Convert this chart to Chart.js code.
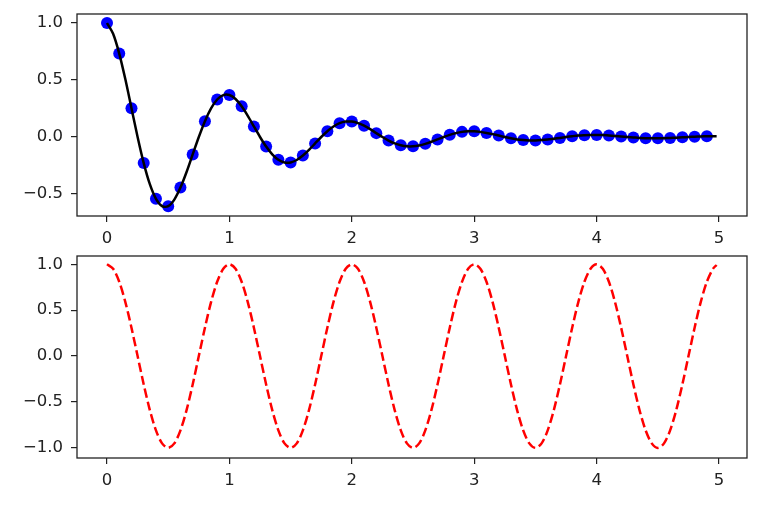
<!DOCTYPE html>
<html>
<head>
<meta charset="utf-8">
<script src="https://cdn.jsdelivr.net/npm/chart.js@4/dist/chart.umd.min.js"></script>
<style>
  body { margin: 0; background: #fff; }
  #wrap { position: relative; width: 761px; height: 505px; }
  canvas { position: absolute; left: 0; }
</style>
</head>
<body>
<div id="wrap">
  <canvas id="topChart" width="761" height="250" style="top:0"></canvas>
  <canvas id="bottomChart" width="761" height="255" style="top:250px"></canvas>
</div>
<script>
// sample times for the dots (every 0.1)
const dotTimes = [0.0, 0.1, 0.2, 0.3, 0.4, 0.5, 0.6, 0.7, 0.8, 0.9,
  1.0, 1.1, 1.2, 1.3, 1.4, 1.5, 1.6, 1.7, 1.8, 1.9,
  2.0, 2.1, 2.2, 2.3, 2.4, 2.5, 2.6, 2.7, 2.8, 2.9,
  3.0, 3.1, 3.2, 3.3, 3.4, 3.5, 3.6, 3.7, 3.8, 3.9,
  4.0, 4.1, 4.2, 4.3, 4.4, 4.5, 4.6, 4.7, 4.8, 4.9];
const dotValues = [1.000, 0.732, 0.253, -0.229, -0.542, -0.607, -0.444, -0.153, 0.139, 0.329,
  0.368, 0.269, 0.093, -0.084, -0.200, -0.223, -0.163, -0.056, 0.051, 0.121,
  0.135, 0.099, 0.034, -0.031, -0.073, -0.082, -0.060, -0.021, 0.019, 0.045,
  0.050, 0.036, 0.013, -0.011, -0.027, -0.030, -0.022, -0.008, 0.007, 0.016,
  0.018, 0.013, 0.005, -0.004, -0.010, -0.011, -0.008, -0.003, 0.003, 0.006];

// finer times for the curves (every 0.05, last one at 4.98)
const lineTimes = [0.00, 0.05, 0.10, 0.15, 0.20, 0.25, 0.30, 0.35, 0.40, 0.45,
  0.50, 0.55, 0.60, 0.65, 0.70, 0.75, 0.80, 0.85, 0.90, 0.95,
  1.00, 1.05, 1.10, 1.15, 1.20, 1.25, 1.30, 1.35, 1.40, 1.45,
  1.50, 1.55, 1.60, 1.65, 1.70, 1.75, 1.80, 1.85, 1.90, 1.95,
  2.00, 2.05, 2.10, 2.15, 2.20, 2.25, 2.30, 2.35, 2.40, 2.45,
  2.50, 2.55, 2.60, 2.65, 2.70, 2.75, 2.80, 2.85, 2.90, 2.95,
  3.00, 3.05, 3.10, 3.15, 3.20, 3.25, 3.30, 3.35, 3.40, 3.45,
  3.50, 3.55, 3.60, 3.65, 3.70, 3.75, 3.80, 3.85, 3.90, 3.95,
  4.00, 4.05, 4.10, 4.15, 4.20, 4.25, 4.30, 4.35, 4.40, 4.45,
  4.50, 4.55, 4.60, 4.65, 4.70, 4.75, 4.80, 4.85, 4.90, 4.95, 4.98];
const dampedValues = [1.000, 0.905, 0.732, 0.506, 0.253, 0.000, -0.229, -0.414, -0.542, -0.606,
  -0.607, -0.549, -0.444, -0.307, -0.153, 0.000, 0.139, 0.251, 0.329, 0.368,
  0.368, 0.333, 0.269, 0.186, 0.093, 0.000, -0.084, -0.152, -0.200, -0.223,
  -0.223, -0.202, -0.163, -0.113, -0.056, 0.000, 0.051, 0.092, 0.121, 0.135,
  0.135, 0.122, 0.099, 0.069, 0.034, 0.000, -0.031, -0.056, -0.073, -0.082,
  -0.082, -0.074, -0.060, -0.042, -0.021, 0.000, 0.019, 0.034, 0.045, 0.050,
  0.050, 0.045, 0.036, 0.025, 0.013, 0.000, -0.011, -0.021, -0.027, -0.030,
  -0.030, -0.027, -0.022, -0.015, -0.008, 0.000, 0.007, 0.013, 0.016, 0.018,
  0.018, 0.017, 0.013, 0.009, 0.005, 0.000, -0.004, -0.008, -0.010, -0.011,
  -0.011, -0.010, -0.008, -0.006, -0.003, 0.000, 0.003, 0.005, 0.006, 0.007, 0.007];
const cosValues = [1.000, 0.951, 0.809, 0.588, 0.309, 0.000, -0.309, -0.588, -0.809, -0.951,
  -1.000, -0.951, -0.809, -0.588, -0.309, 0.000, 0.309, 0.588, 0.809, 0.951,
  1.000, 0.951, 0.809, 0.588, 0.309, 0.000, -0.309, -0.588, -0.809, -0.951,
  -1.000, -0.951, -0.809, -0.588, -0.309, 0.000, 0.309, 0.588, 0.809, 0.951,
  1.000, 0.951, 0.809, 0.588, 0.309, 0.000, -0.309, -0.588, -0.809, -0.951,
  -1.000, -0.951, -0.809, -0.588, -0.309, 0.000, 0.309, 0.588, 0.809, 0.951,
  1.000, 0.951, 0.809, 0.588, 0.309, 0.000, -0.309, -0.588, -0.809, -0.951,
  -1.000, -0.951, -0.809, -0.588, -0.309, 0.000, 0.309, 0.588, 0.809, 0.951,
  1.000, 0.951, 0.809, 0.588, 0.309, 0.000, -0.309, -0.588, -0.809, -0.951,
  -1.000, -0.951, -0.809, -0.588, -0.309, 0.000, 0.309, 0.588, 0.809, 0.951, 0.992];

// tick labels
const xTicks = [0, 1, 2, 3, 4, 5];
const topYTicks = [-0.5, 0.0, 0.5, 1.0];
const bottomYTicks = [-1.0, -0.5, 0.0, 0.5, 1.0];

const ink = "#222";
const tickFont = { family: "'DejaVu Sans', sans-serif", size: 16.5 };

function pairs(xs, ys) {
    return xs.map((x, i) => ({ x: x, y: ys[i] }));
}

// draws the box round the plot area
const frame = {
    id: "frame",
    afterDraw(chart) {
        const a = chart.chartArea;
        const ctx = chart.ctx;
        ctx.save();
        ctx.strokeStyle = ink;
        ctx.lineWidth = 1.3;
        ctx.strokeRect(a.left, a.top, a.right - a.left, a.bottom - a.top);
        ctx.restore();
    }
};

function fmtY(v) {
    const s = Math.abs(v).toFixed(1);
    return v < 0 ? "\u2212" + s : s;
}

function makeScales(yMin, yMax, yTicks, xHeight) {
    const grid = { display: true, drawOnChartArea: false, drawTicks: true, tickLength: 6, color: ink, lineWidth: 1.2 };
    return {
        x: {
            type: "linear", min: -0.245, max: 5.228,
            border: { display: false },
            grid: grid,
            afterBuildTicks: s => { s.ticks = xTicks.map(v => ({ value: v })); },
            afterFit: s => { s.height = xHeight; s.paddingLeft = 0; s.paddingRight = 0; },
            ticks: { padding: 7, maxRotation: 0, color: ink, font: tickFont, callback: v => String(v) }
        },
        y: {
            min: yMin, max: yMax,
            border: { display: false },
            grid: grid,
            afterBuildTicks: s => { s.ticks = yTicks.map(v => ({ value: v })); },
            afterFit: s => { s.width = 77; s.paddingTop = 0; s.paddingBottom = 0; },
            ticks: { padding: 8, color: ink, font: tickFont, callback: v => fmtY(v) }
        }
    };
}

new Chart(document.getElementById("topChart"), {
    type: "scatter",
    data: {
        datasets: [
            {
                data: pairs(dotTimes, dotValues),
                showLine: false, pointRadius: 6, pointBorderWidth: 0,
                pointBackgroundColor: "#0000ff", pointBorderColor: "#0000ff", order: 2
            },
            {
                data: pairs(lineTimes, dampedValues),
                showLine: true, pointRadius: 0, borderColor: "#000", borderWidth: 2.5,
                tension: 0.3, order: 1
            }
        ]
    },
    options: {
        responsive: false, animation: false, devicePixelRatio: 1,
        layout: { padding: { left: 0, right: 14, top: 14, bottom: 0 } },
        plugins: { legend: { display: false }, tooltip: { enabled: false } },
        scales: makeScales(-0.693, 1.079, topYTicks, 34)
    },
    plugins: [frame]
});

new Chart(document.getElementById("bottomChart"), {
    type: "scatter",
    data: {
        datasets: [
            {
                data: pairs(lineTimes, cosValues),
                showLine: true, pointRadius: 0, borderColor: "#ff0000", borderWidth: 2.5,
                borderDash: [9.2, 4], tension: 0.3
            }
        ]
    },
    options: {
        responsive: false, animation: false, devicePixelRatio: 1,
        layout: { padding: { left: 0, right: 14, top: 6, bottom: 13 } },
        plugins: { legend: { display: false }, tooltip: { enabled: false } },
        scales: makeScales(-1.11, 1.09, bottomYTicks, 34)
    },
    plugins: [frame]
});
</script>
</body>
</html>
